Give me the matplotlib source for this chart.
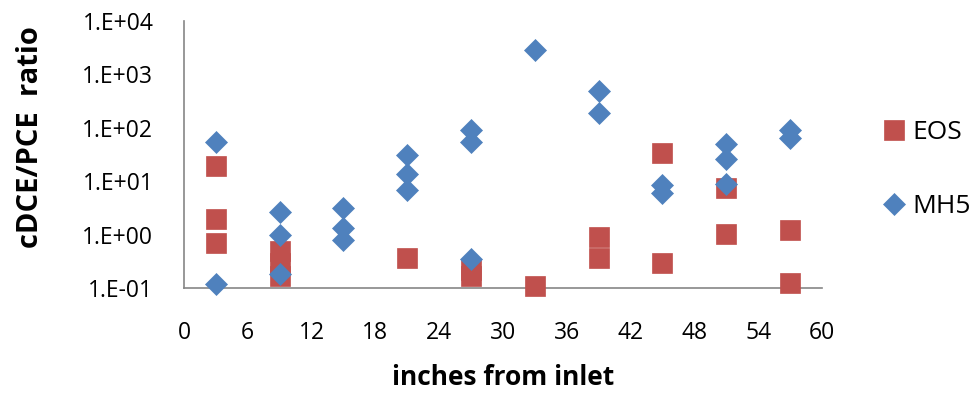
import numpy as np
import matplotlib.pyplot as plt
from matplotlib.ticker import FixedLocator, FuncFormatter

# distance from inlet (inches) and cDCE/PCE ratio for each sample
eos_x = [3, 3, 3, 9, 9, 9, 21, 27, 27, 33, 39, 39, 45, 45, 51, 51, 57, 57]
eos_y = [19.4, 2.0, 0.69, 0.49, 0.29, 0.17, 0.37, 0.22, 0.17, 0.108,
         0.90, 0.36, 34, 0.29, 7.3, 1.02, 1.21, 0.126]

mh5_x = [3, 3, 9, 9, 9, 15, 15, 15, 21, 21, 21, 27, 27, 27, 33,
         39, 39, 45, 45, 51, 51, 51, 57, 57]
mh5_y = [54, 0.12, 2.6, 0.98, 0.18, 3.1, 1.34, 0.79, 30.6, 13.5, 6.8,
         89, 54, 0.35, 2800, 480, 190, 8.4, 5.9, 50, 26.5, 9.0, 92, 63]

x_ticks = list(range(0, 61, 6))
y_ticks = [1e-1, 1e0, 1e1, 1e2, 1e3, 1e4]

red = '#C0504D'
blue = '#4F81BD'
font = 'Open Sans'

plt.rcParams['font.family'] = font

fig = plt.figure(figsize=(9.77, 3.94), dpi=100)
ax = fig.add_axes([0.1883, 0.269, 0.653, 0.678])

ax.plot(eos_x, eos_y, linestyle='none', marker='s', ms=15,
        color=red, mec=red, mew=0.5, label='EOS', clip_on=False, zorder=3)
ax.plot(mh5_x, mh5_y, linestyle='none', marker='D', ms=11,
        color=blue, mec=blue, mew=0.5, label='MH5', clip_on=False, zorder=4)

ax.set_yscale('log')
ax.set_ylim(1e-1, 1e4)
ax.set_xlim(0, 60)
ax.xaxis.set_major_locator(FixedLocator(x_ticks))
ax.yaxis.set_major_locator(FixedLocator(y_ticks))
ax.yaxis.set_minor_locator(FixedLocator([]))
ax.yaxis.set_major_formatter(FuncFormatter(
    lambda v, p: '1.E%+03d' % int(round(np.log10(v)))))

for s in ['top', 'right']:
    ax.spines[s].set_visible(False)
for s in ['left', 'bottom']:
    ax.spines[s].set_color('#868686')
    ax.spines[s].set_linewidth(1.2)

ax.tick_params(axis='both', length=0, labelsize=16.5, colors='black')
ax.tick_params(axis='y', pad=22)
ax.tick_params(axis='x', pad=24)

fig.text(0.031, 0.652, 'cDCE/PCE  ratio', rotation=90, ha='center',
         va='center', fontsize=21, fontweight='bold')
fig.text(0.515, 0.043, 'inches from inlet', ha='center', va='center',
         fontsize=19, fontweight='bold')

leg = fig.legend(loc='center left', bbox_to_anchor=(0.9017, 0.57),
                 frameon=False, fontsize=19, labelspacing=1.85,
                 handletextpad=0.2, handlelength=1.0, borderpad=0,
                 borderaxespad=0)

fig.savefig('out.png', dpi=100)
